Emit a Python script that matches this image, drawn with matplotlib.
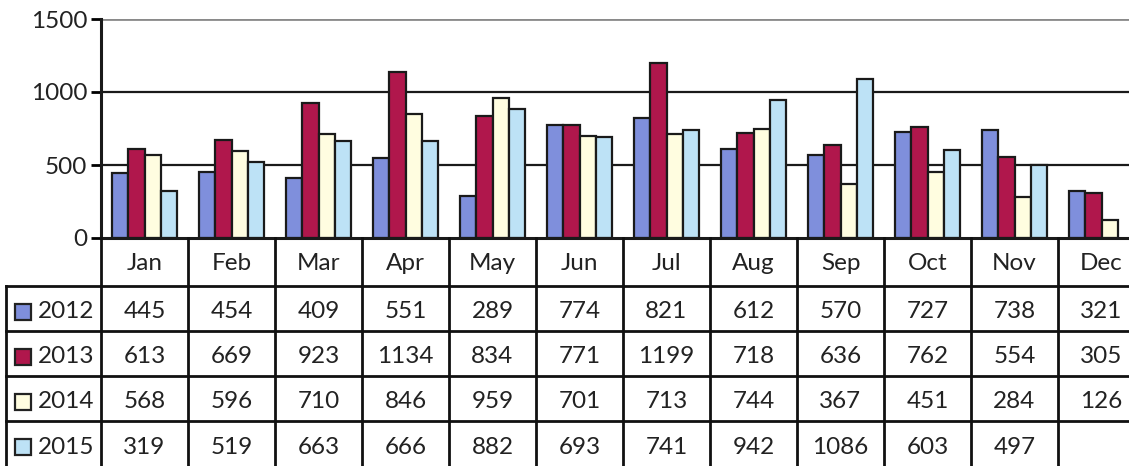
import numpy as np
import matplotlib.pyplot as plt
from matplotlib.patches import Rectangle

months = ["Jan", "Feb", "Mar", "Apr", "May", "Jun", "Jul", "Aug", "Sep", "Oct", "Nov", "Dec"]
years = ["2012", "2013", "2014", "2015"]
v2012 = [445, 454, 409, 551, 289, 774, 821, 612, 570, 727, 738, 321]
v2013 = [613, 669, 923, 1134, 834, 771, 1199, 718, 636, 762, 554, 305]
v2014 = [568, 596, 710, 846, 959, 701, 713, 744, 367, 451, 284, 126]
v2015 = [319, 519, 663, 666, 882, 693, 741, 942, 1086, 603, 497, None]
series = [v2012, v2013, v2014, v2015]
colors = ["#7f8fdc", "#b0174c", "#fffde0", "#bde2f6"]

plt.rcParams['font.family'] = ['Lato', 'DejaVu Sans']
fs = 17.5

W, H = 1129, 466
fig = plt.figure(figsize=(W / 100, H / 100), dpi=100)

# pixel layout
x0, x1 = 101, 1145      # month columns (right edge runs off the picture)
y_top, y_zero = 19, 238
leg_left = 6
row_edges = [238, 286, 331, 376, 421, 467]

ax = fig.add_axes([x0 / W, 1 - y_zero / H, (x1 - x0) / W, (y_zero - y_top) / H])
n = len(months)
xs = np.arange(n) + 0.5
bw = 0.1875
for k, (vals, c) in enumerate(zip(series, colors)):
    v = np.array([np.nan if a is None else a for a in vals], dtype=float)
    ax.bar(xs + (k - 1.5) * bw, v, width=bw, color=c, edgecolor="#1a1a1a",
           linewidth=1.6, zorder=3)

ax.set_xlim(0, n)
ax.set_ylim(0, 1500)
ax.set_yticks([0, 500, 1000, 1500])
ax.set_yticklabels(["0", "500", "1000", "1500"], fontsize=fs, color="#222222")
ax.tick_params(axis="y", length=7, width=2, pad=3)
ax.set_xticks([])
for y in [500, 1000]:
    ax.axhline(y, color="#1a1a1a", lw=1.6, zorder=1)
ax.axhline(1500, color="#8a8a8a", lw=2, zorder=1)
for s in ["top", "right", "bottom"]:
    ax.spines[s].set_visible(False)
ax.spines["left"].set_linewidth(2.2)
ax.spines["left"].set_color("#1a1a1a")
ax.axhline(0, color="#1a1a1a", lw=2.2, zorder=4, clip_on=False)

# data table below the chart
tab = fig.add_axes([0, 0, 1, 1])
tab.set_xlim(0, W)
tab.set_ylim(H, 0)
tab.axis("off")
colw = (x1 - x0) / n
lc = "#111111"
lw = 2.0

# header row
for i in range(n + 1):
    xx = x0 + i * colw
    tab.plot([xx, xx], [row_edges[0], row_edges[1]], color=lc, lw=lw)
for i, m in enumerate(months):
    tab.text(x0 + (i + 0.5) * colw, (row_edges[0] + row_edges[1]) / 2 + 2, m,
             ha="center", va="center", fontsize=fs, color="#222222")

# data rows
for yy in row_edges[1:]:
    tab.plot([leg_left, x1], [yy, yy], color=lc, lw=lw)
tab.plot([leg_left, leg_left], [row_edges[1], row_edges[-1]], color=lc, lw=lw)
for i in range(n + 1):
    xx = x0 + i * colw
    tab.plot([xx, xx], [row_edges[1], row_edges[-1]], color=lc, lw=lw)

for r, (yr, vals, c) in enumerate(zip(years, series, colors)):
    yc = (row_edges[r + 1] + row_edges[r + 2]) / 2 + 3
    tab.add_patch(Rectangle((15, yc - 8), 16, 16, facecolor=c, edgecolor="#222222", lw=1.6))
    tab.text(38, yc, yr, ha="left", va="center", fontsize=fs, color="#222222")
    for i, v in enumerate(vals):
        if v is None:
            continue
        tab.text(x0 + (i + 0.5) * colw, yc, str(v), ha="center", va="center",
                 fontsize=fs, color="#222222")

fig.savefig("out.png", dpi=100)
